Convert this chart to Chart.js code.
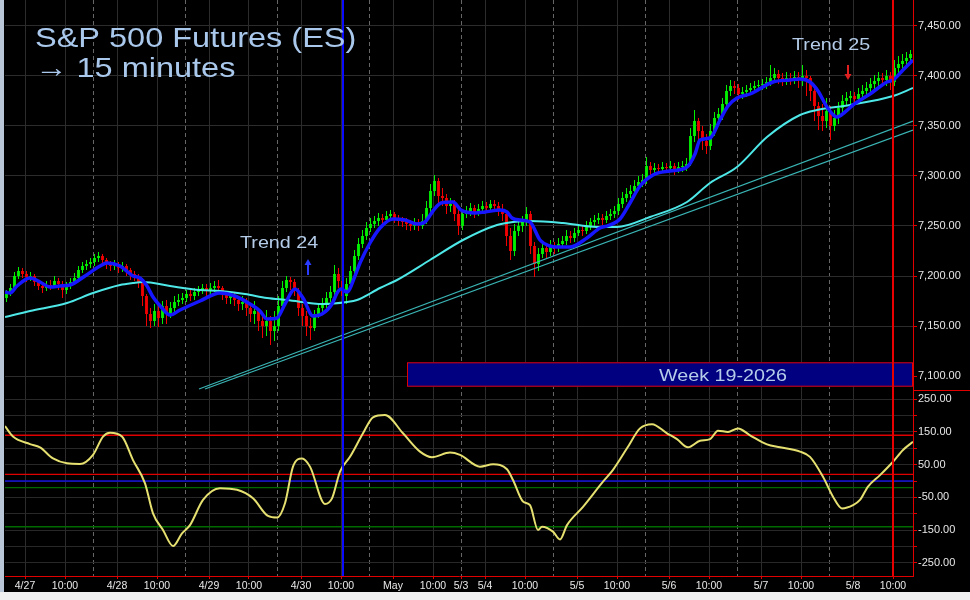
<!DOCTYPE html>
<html>
<head>
<meta charset="utf-8">
<script src="https://cdn.jsdelivr.net/npm/chart.js@4.4.1/dist/chart.umd.min.js"></script>
<style>
  html, body { margin: 0; padding: 0; background: #000; }
</style>
</head>
<body>
<canvas id="chart" width="970" height="600"></canvas>
<script>
// -------------------- Data (x = 15-minute bar index from the left edge) --------------------
const tickPos = [20, 60, 112, 152, 204, 244, 296, 336, 388, 428, 456, 480, 520, 572, 612, 664, 704, 756, 796, 848, 888];
const tickLabels = ['4/27', '10:00', '4/28', '10:00', '4/29', '10:00', '4/30', '10:00', 'May', '10:00', '5/3',
                    '5/4', '10:00', '5/5', '10:00', '5/6', '10:00', '5/7', '10:00', '5/8', '10:00'];
const sessionBreaks = [88, 180, 272, 364, 456, 548, 640, 732, 824];
const priceTicks = [7100, 7150, 7200, 7250, 7300, 7350, 7400, 7450];
const oscTicks = [-250, -200, -150, -100, -50, 0, 50, 100, 150, 200, 250];

// hourly candles (one per 4 bars)
const firstOpen = 7178;
const closes = [
  7182,7188,7200,7205,7202,7199,7200,7194,7190,7188, 7191,7190,7195,7192,7186,7190,7194,7198,7206,7210,
  7212,7214,7218,7220,7216,7212,7210,7212,7208,7210, 7206,7202,7200,7194,7180,7162,7155,7165,7158,7170,
  7162,7168,7174,7176,7178,7182,7180,7184,7186,7188, 7185,7188,7190,7188,7182,7178,7180,7176,7172,7174,
  7168,7162,7165,7155,7150,7155,7145,7150,7170,7188, 7196,7194,7185,7168,7160,7150,7148,7162,7168,7172,
  7178,7184,7202,7195,7180,7192,7205,7220,7232,7240, 7248,7252,7255,7258,7256,7260,7262,7258,7255,7254,
  7252,7250,7253,7250,7255,7268,7285,7295,7280,7278, 7270,7272,7262,7250,7262,7265,7268,7264,7267,7270,
  7268,7272,7270,7266,7262,7240,7225,7245,7250,7255, 7262,7230,7212,7222,7228,7224,7230,7228,7232,7235,
  7240,7238,7243,7246,7245,7250,7254,7256,7258,7256, 7260,7262,7265,7272,7278,7282,7285,7290,7294,7296,
  7310,7306,7308,7307,7309,7308,7310,7307,7309,7310, 7312,7340,7355,7345,7335,7330,7345,7358,7362,7372,
  7385,7390,7388,7382,7384,7386,7388,7390,7391,7392, 7394,7398,7402,7398,7396,7398,7397,7399,7396,7400,
  7398,7385,7370,7360,7355,7365,7350,7358,7368,7375, 7378,7380,7377,7382,7385,7388,7392,7395,7398,7396,
  7400,7394,7408,7412,7415,7418,7422
];
const highs = [
  7186,7192,7204,7209,7208,7205,7204,7202,7196,7193, 7195,7196,7200,7198,7195,7194,7198,7203,7210,7214,
  7216,7218,7222,7224,7222,7218,7215,7216,7214,7214, 7212,7208,7205,7202,7196,7182,7168,7172,7170,7175,
  7176,7174,7180,7182,7183,7186,7186,7188,7190,7192, 7192,7193,7195,7196,7190,7185,7185,7184,7180,7180,
  7178,7172,7175,7168,7160,7166,7160,7165,7180,7195, 7200,7199,7197,7188,7172,7165,7158,7166,7173,7178,
  7184,7190,7211,7208,7198,7198,7210,7226,7238,7246, 7254,7258,7260,7263,7262,7265,7266,7264,7261,7259,
  7258,7256,7258,7257,7262,7275,7292,7301,7298,7288, 7282,7278,7276,7266,7266,7270,7273,7271,7272,7275,
  7274,7276,7276,7274,7272,7266,7248,7252,7256,7260, 7269,7265,7234,7228,7234,7232,7236,7234,7238,7240,
  7246,7245,7248,7252,7251,7255,7258,7261,7263,7262, 7265,7267,7270,7278,7284,7288,7291,7296,7300,7302,
  7319,7314,7313,7312,7314,7313,7315,7313,7314,7315, 7318,7348,7366,7358,7350,7342,7352,7364,7368,7378,
  7391,7396,7395,7392,7389,7391,7393,7395,7396,7397, 7399,7411,7408,7406,7403,7404,7403,7405,7404,7411,
  7406,7400,7388,7374,7372,7378,7370,7366,7374,7381, 7384,7385,7384,7388,7391,7394,7398,7401,7404,7403,
  7406,7404,7416,7420,7422,7424,7426
];
const lows = [
  7174,7180,7186,7197,7198,7194,7195,7190,7186,7183, 7185,7186,7188,7186,7178,7182,7187,7191,7196,7203,
  7206,7208,7210,7214,7210,7207,7205,7206,7203,7204, 7200,7196,7195,7188,7170,7150,7148,7150,7149,7152,
  7152,7158,7164,7170,7172,7174,7175,7176,7180,7182, 7180,7181,7184,7183,7176,7172,7172,7170,7165,7166,
  7160,7154,7152,7145,7138,7140,7131,7135,7145,7165, 7184,7186,7180,7160,7150,7140,7136,7145,7158,7164,
  7168,7174,7180,7188,7165,7172,7188,7200,7216,7228, 7236,7244,7248,7250,7250,7252,7255,7253,7250,7249,
  7246,7245,7246,7245,7247,7252,7264,7280,7272,7270, 7262,7264,7255,7241,7246,7258,7260,7258,7260,7262,
  7263,7264,7264,7260,7255,7230,7216,7220,7240,7244, 7250,7222,7199,7205,7218,7218,7220,7222,7224,7228,
  7231,7233,7234,7240,7240,7242,7246,7250,7252,7251, 7253,7256,7258,7261,7268,7274,7278,7280,7285,7289,
  7292,7300,7302,7302,7303,7303,7304,7301,7303,7304, 7305,7310,7334,7336,7326,7322,7326,7340,7352,7356,
  7368,7380,7382,7376,7377,7379,7381,7383,7385,7386, 7387,7390,7393,7392,7390,7391,7391,7392,7388,7390,
  7380,7375,7355,7346,7345,7348,7336,7345,7352,7362, 7370,7372,7371,7372,7377,7380,7383,7386,7390,7390,
  7390,7386,7390,7402,7406,7408,7412
];

// moving averages [bar index, price]
const fastMA = [
  [0,7184],[5,7183],[12,7190],[25,7198],[35,7194],[45,7189],[55,7190],[65,7191],[80,7200],[95,7210],
  [102,7213],[115,7210],[128,7200],[135,7198],[142,7190],[148,7179],[157,7168],[165,7161],[175,7166],
  [195,7175],[215,7183],[230,7180],[245,7172],[255,7165],[262,7157],[272,7158],[280,7172],[290,7187],
  [298,7178],[308,7160],[317,7162],[327,7172],[332,7183],[336,7187],[342,7184],[350,7200],[355,7213],
  [365,7233],[375,7248],[388,7257],[400,7256],[412,7252],[420,7254],[428,7265],[436,7273],[448,7274],
  [456,7266],[470,7263],[480,7264],[495,7266],[502,7264],[507,7258],[515,7256],[525,7254],[535,7236],
  [545,7230],[552,7229],[565,7229],[582,7238],[595,7248],[602,7250],[615,7257],[625,7273],[635,7290],
  [648,7301],[665,7305],[682,7309],[690,7322],[695,7336],[705,7338],[715,7356],[723,7370],[732,7378],
  [745,7382],[768,7394],[785,7396],[795,7397],[805,7394],[813,7385],[822,7369],[832,7359],[840,7364],
  [848,7371],[865,7382],[882,7394],[888,7396],[898,7406],[908,7416]
];
const slowMA = [
  [0,7159],[25,7165],[62,7173],[88,7183],[115,7191],[128,7193],[138,7194],[165,7190],[195,7186],
  [215,7185],[240,7182],[262,7178],[282,7176],[318,7172],[342,7174],[352,7176],[375,7188],[392,7196],
  [425,7216],[458,7236],[492,7251],[508,7254],[525,7255],[558,7253],[592,7249],[612,7249],[645,7259],
  [682,7274],[705,7293],[732,7309],[762,7339],[795,7361],[812,7366],[845,7371],[888,7380],[908,7388]
];
const trendA = [[194,7087],[908,7355]];
const trendB = [[200,7087],[908,7346]];

// oscillator [bar index, value]
const oscillator = [
  [0,168],[8,136],[25,113],[35,103],[48,69],[62,54],[75,52],[88,80],[98,136],[105,148],[117,136],
  [128,64],[140,-7],[148,-99],[158,-150],[168,-199],[177,-160],[185,-135],[198,-58],[215,-22],[232,-27],
  [248,-53],[263,-107],[272,-112],[280,-68],[288,44],[297,69],[305,44],[320,-70],[327,-53],[335,29],
  [345,74],[358,146],[368,195],[380,202],[398,146],[415,90],[427,73],[445,87],[455,80],[475,44],
  [488,51],[502,36],[508,3],[518,-63],[525,-74],[533,-150],[537,-140],[548,-155],[555,-179],[562,-135],
  [578,-79],[598,-2],[608,34],[622,100],[635,161],[647,174],[662,146],[672,128],[683,103],[695,123],
  [705,128],[713,154],[723,150],[733,161],[745,140],[762,112],[775,103],[795,90],[805,74],[818,13],
  [828,-48],[837,-84],[848,-74],[855,-58],[863,-17],[875,18],[888,59],[898,95],[908,120]
];
const oscLevels = [140, 20, 0, -20, -140];
const oscLevelColors = ['#e00000', '#e00000', '#1010d8', '#006a00', '#006a00'];

const notes = [
  { text: 'Trend 24', x: 235, y: 7228 },
  { text: 'Trend 25', x: 787, y: 7426 }
];
const arrows = [
  { x: 303, from: 7201, to: 7217, color: '#2a3cff' },
  { x: 843, from: 7411, to: 7396, color: '#e02020' }
];
const weekBox = { x0: 402, x1: 908, y0: 7089.3, y1: 7113.7, text: 'Week 19-2026', textX: 718, textY: 7095.3 };
const markers = [{ x: 337.5, color: '#0a0aff' }, { x: 888, color: '#e80000' }];

// -------------------- Build datasets --------------------
const opens = closes.map((c, i) => i === 0 ? firstOpen : closes[i - 1]);
const candleX = closes.map((c, i) => i * 4 + 1.5);
const candleColor = closes.map((c, i) => c >= opens[i] ? '#00f000' : '#f00000');
const wicks = closes.map((c, i) => ({ x: candleX[i], y: [lows[i], highs[i]] }));
const bodies = closes.map((c, i) => ({ x: candleX[i], y: [opens[i], c] }));
const toXY = pts => pts.map(p => ({ x: p[0], y: p[1] }));

const lineBase = { type: 'line', pointRadius: 0, fill: false, cubicInterpolationMode: 'monotone' };
const datasets = [
  { ...lineBase, data: toXY(fastMA), yAxisID: 'y', borderColor: '#1616ff', borderWidth: 3.5, order: 1 },
  { ...lineBase, data: toXY(slowMA), yAxisID: 'y', borderColor: '#4ee8e8', borderWidth: 2, order: 2 },
  { ...lineBase, data: toXY(trendA), yAxisID: 'y', borderColor: '#3ab4b4', borderWidth: 1.2, order: 3 },
  { ...lineBase, data: toXY(trendB), yAxisID: 'y', borderColor: '#3ab4b4', borderWidth: 1.2, order: 3 },
  { type: 'bar', data: bodies, yAxisID: 'y', backgroundColor: candleColor, grouped: false,
    maxBarThickness: 3, minBarLength: 1, borderWidth: 0, order: 4 },
  { type: 'bar', data: wicks, yAxisID: 'y', backgroundColor: candleColor, grouped: false,
    maxBarThickness: 1, borderWidth: 0, order: 5 },
  { ...lineBase, data: toXY(oscillator), yAxisID: 'y2', borderColor: '#e6e070', borderWidth: 2, order: 1 }
];
oscLevels.forEach((lv, i) => {
  datasets.push({ ...lineBase, data: [{ x: 0, y: lv }, { x: 908, y: lv }], yAxisID: 'y2',
    borderColor: oscLevelColors[i], borderWidth: 1.3, order: 6 });
});

// -------------------- Drawing helpers --------------------
const FONT = '"Liberation Sans", Arial, sans-serif';
function stretchText(ctx, text, px, py, size, color, align) {
  ctx.save();
  ctx.font = size + 'px ' + FONT;
  ctx.fillStyle = color;
  ctx.textBaseline = 'alphabetic';
  ctx.textAlign = align || 'left';
  ctx.translate(px, py);
  ctx.scale(1.16, 1);
  ctx.fillText(text, 0, 0);
  ctx.restore();
}
function drawArrow(ctx, px, yTail, yHead, color) {
  const dir = yHead < yTail ? -1 : 1;
  ctx.save();
  ctx.strokeStyle = color;
  ctx.fillStyle = color;
  ctx.lineWidth = 2;
  ctx.beginPath();
  ctx.moveTo(px, yTail);
  ctx.lineTo(px, yHead - dir * 5);
  ctx.stroke();
  ctx.beginPath();
  ctx.moveTo(px - 3.5, yHead - dir * 6);
  ctx.lineTo(px + 3.5, yHead - dir * 6);
  ctx.lineTo(px, yHead);
  ctx.closePath();
  ctx.fill();
  ctx.restore();
}

const overlay = {
  id: 'overlay',
  beforeDraw(chart) {
    const ctx = chart.ctx;
    ctx.save();
    ctx.fillStyle = '#000';
    ctx.fillRect(0, 0, 970, 600);
    ctx.fillStyle = '#f0f0f0';
    ctx.fillRect(0, 592, 970, 8);
    ctx.fillStyle = '#b8c6d8';
    ctx.fillRect(0, 0, 4, 592);
    ctx.restore();
  },
  afterDatasetsDraw(chart) {
    const { ctx, chartArea, scales: { x, y } } = chart;
    ctx.save();
    // week box
    const bx0 = x.getPixelForValue(weekBox.x0), bx1 = x.getPixelForValue(weekBox.x1);
    const by0 = y.getPixelForValue(weekBox.y1), by1 = y.getPixelForValue(weekBox.y0);
    ctx.fillStyle = '#000080';
    ctx.fillRect(bx0, by0, bx1 - bx0, by1 - by0);
    ctx.strokeStyle = '#e00000';
    ctx.lineWidth = 1;
    ctx.strokeRect(bx0 + 0.5, by0 + 0.5, bx1 - bx0 - 1, by1 - by0 - 1);
    stretchText(ctx, weekBox.text, x.getPixelForValue(weekBox.textX), y.getPixelForValue(weekBox.textY), 17, '#b4cce8', 'center');

    // vertical markers
    markers.forEach(m => {
      const px = Math.round(x.getPixelForValue(m.x));
      ctx.strokeStyle = m.color;
      ctx.lineWidth = 2;
      ctx.beginPath();
      ctx.moveTo(px, chartArea.top);
      ctx.lineTo(px, chartArea.bottom);
      ctx.stroke();
    });

    // separator between the panes on the axis side
    ctx.strokeStyle = '#e00000';
    ctx.lineWidth = 1;
    ctx.beginPath();
    ctx.moveTo(chartArea.right, Math.round(y.bottom) + 0.5);
    ctx.lineTo(970, Math.round(y.bottom) + 0.5);
    ctx.stroke();

    // texts and arrows
    stretchText(ctx, 'S&P 500 Futures (ES)', chartArea.left + 30, 47, 28, '#a9c8ec');
    stretchText(ctx, '\u2192 15 minutes', chartArea.left + 30, 77, 28, '#a9c8ec');
    notes.forEach(n => stretchText(ctx, n.text, x.getPixelForValue(n.x), y.getPixelForValue(n.y), 17, '#b4cce8'));
    arrows.forEach(a => drawArrow(ctx, x.getPixelForValue(a.x), y.getPixelForValue(a.from), y.getPixelForValue(a.to), a.color));
    ctx.restore();
  }
};

// -------------------- Chart --------------------
const allXTicks = Array.from(new Set(tickPos.concat(sessionBreaks))).sort((a, b) => a - b);
const isBreak = c => c.tick && sessionBreaks.includes(c.tick.value);
const isLabelled = c => c.tick && tickPos.includes(c.tick.value);
const tickFont = { family: FONT, size: 11 };

new Chart(document.getElementById('chart'), {
  type: 'line',
  data: { datasets },
  plugins: [overlay],
  options: {
    responsive: false,
    animation: false,
    layout: { padding: { left: 5, right: 0, top: 0, bottom: 0 } },
    plugins: { legend: { display: false }, tooltip: { enabled: false } },
    scales: {
      x: {
        type: 'linear', min: 0, max: 908, offset: false,
        afterBuildTicks: s => { s.ticks = allXTicks.map(v => ({ value: v })); },
        afterFit: s => { s.height = 24; s.paddingLeft = 0; s.paddingRight = 0; },
        ticks: {
          autoSkip: false, maxRotation: 0, color: '#e8e8e8', padding: 1,
          font: { family: FONT, size: 10.5 },
          callback: v => { const k = tickPos.indexOf(v); return k >= 0 ? tickLabels[k] : ''; }
        },
        grid: {
          offset: false, lineWidth: 1, tickLength: 3,
          color: c => isBreak(c) ? '#666666' : '#2c2c2c',
          tickColor: c => isLabelled(c) ? '#e00000' : 'rgba(0,0,0,0)'
        },
        border: { color: '#e00000', width: 1, dash: c => isBreak(c) ? [4, 3] : [] }
      },
      y: {
        position: 'right', stack: 'panes', stackWeight: 390,
        min: 7086, max: 7476,
        afterBuildTicks: s => { s.ticks = priceTicks.map(v => ({ value: v })); },
        afterFit: s => { s.width = 57; s.paddingTop = 0; s.paddingBottom = 0; },
        ticks: {
          autoSkip: false, color: '#e6e6e6', padding: 1, font: tickFont,
          callback: v => v.toLocaleString('en-US', { minimumFractionDigits: 2, maximumFractionDigits: 2 })
        },
        grid: { color: '#2c2c2c', tickColor: '#e00000', tickLength: 4 },
        border: { color: '#e00000', width: 1 }
      },
      y2: {
        position: 'right', stack: 'panes', stackWeight: 186,
        min: -290.7, max: 278.5,
        afterBuildTicks: s => { s.ticks = oscTicks.map(v => ({ value: v })); },
        afterFit: s => { s.width = 57; s.paddingTop = 0; s.paddingBottom = 0; },
        ticks: {
          autoSkip: false, color: '#e6e6e6', padding: 1, font: tickFont,
          callback: v => ((v + 250) % 100 === 0) ? v.toFixed(2) : ''
        },
        grid: { color: '#282828', tickColor: '#e00000', tickLength: 4 },
        border: { color: '#e00000', width: 1 }
      }
    }
  }
});
</script>
</body>
</html>
